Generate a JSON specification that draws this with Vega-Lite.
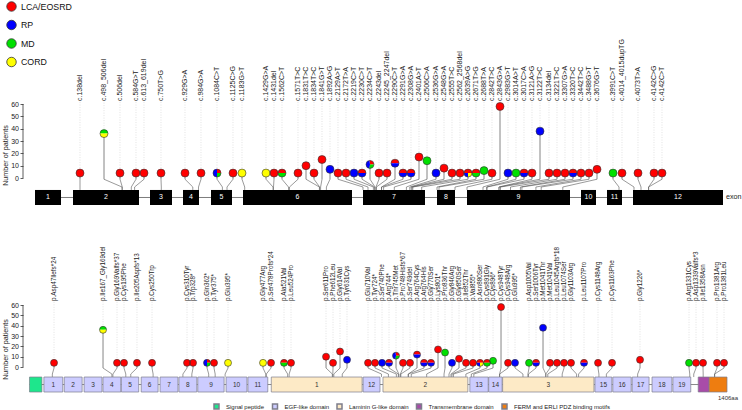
{
"$schema": "https://vega.github.io/schema/vega-lite/v6.json",
"background": "white",
"padding": {"left": 1, "top": 1, "right": 0, "bottom": 0},
"config": {
  "view": {"stroke": null},
  "font": "Liberation Sans",
  "axis": {"domain": false, "grid": false, "tickSize": 3, "tickColor": "#333333", "tickWidth": 0.8, "labelFontSize": 7, "labelColor": "#222222", "labelPadding": 1.5, "titleFontSize": 7.2, "titleFontWeight": "normal", "titleColor": "#222222", "titleX": -13.5},
  "legend": {"padding": 0}
},
"datasets": {
  "variants": [
    {"id":1,"c":"c.138del","p":"p.Asp47Ilefs*24","u":570,"us":570,"a":50.4,"aa":47},
    {"id":2,"c":"c.498_506del","p":"p.Ile167_Gly169del","u":810,"us":990,"a":149.1,"aa":167},
    {"id":3,"c":"c.506del","p":"p.Gly169Valfs*37","u":970,"us":993,"a":177.3,"aa":169},
    {"id":4,"c":"c.584G>T","p":"p.Cys195Phe","u":1130,"us":1083,"a":191.4,"aa":195},
    {"id":5,"c":"c.613_619del","p":"p.Ile205Aspfs*13","u":1210,"us":1116,"a":217.5,"aa":205},
    {"id":6,"c":"c.750T>G","p":"p.Cys250Trp","u":1380,"us":1383,"a":247.8,"aa":250},
    {"id":7,"c":"c.929G>A","p":"p.Cys310Tyr","u":1620,"us":1698,"a":318.3,"aa":310},
    {"id":8,"c":"c.984G>A","p":"p.Trp328*","u":1780,"us":1755,"a":330.4,"aa":328},
    {"id":9,"c":"c.1084C>T","p":"p.Gln362*","u":1940,"us":1994,"a":358.6,"aa":362},
    {"id":10,"c":"c.1125C>G","p":"p.Tyr375*","u":2100,"us":2040,"a":372.7,"aa":375},
    {"id":11,"c":"c.1183G>T","p":"p.Glu395*","u":2190,"us":2217,"a":400.9,"aa":395},
    {"id":12,"c":"c.1429G>A","p":"p.Gly477Arg","u":2430,"us":2500,"a":471.4,"aa":477},
    {"id":13,"c":"c.1431del","p":"p.Ser478Profs*24","u":2510,"us":2505,"a":487.5,"aa":478},
    {"id":14,"c":"c.1562C>T","p":"p.Ala521Val","u":2590,"us":2655,"a":513.7,"aa":521},
    {"id":15,"c":"c.1571T>C","p":"p.Leu524Pro","u":2750,"us":2665,"a":527.8,"aa":524},
    {"id":16,"c":"c.1831T>C","p":"p.Ser611Pro","u":2830,"us":2964,"a":598.3,"aa":611},
    {"id":17,"c":"c.1834T>C","p":"p.Phe612Leu","u":2910,"us":2967,"a":612.4,"aa":612},
    {"id":18,"c":"c.1841G>T","p":"p.Gly614Val","u":2990,"us":2976,"a":626.5,"aa":614},
    {"id":19,"c":"c.1892A>G","p":"p.Tyr631Cys","u":3070,"us":3034,"a":640.6,"aa":631},
    {"id":20,"c":"c.2129A>T","p":"p.Glu710Val","u":3150,"us":3400,"a":682.9,"aa":710},
    {"id":21,"c":"c.2172T>A","p":"p.Tyr724*","u":3230,"us":3450,"a":697,"aa":724},
    {"id":22,"c":"c.2219C>T","p":"p.Ser740Phe","u":3310,"us":3504,"a":711.1,"aa":740},
    {"id":23,"c":"c.2230C>T","p":"p.Arg744*","u":3390,"us":3516,"a":725.2,"aa":744},
    {"id":24,"c":"c.2234C>T","p":"p.Thr745Met","u":3470,"us":3520,"a":739.3,"aa":745},
    {"id":25,"c":"c.2243del","p":"p.Pro748Hisfs*67","u":3560,"us":3530,"a":753.4,"aa":748},
    {"id":26,"c":"c.2245_2247del","p":"p.Ser749del","u":3640,"us":3534,"a":767.5,"aa":749},
    {"id":27,"c":"c.2290C>T","p":"p.Arg764Cys","u":3720,"us":3585,"a":781.6,"aa":764},
    {"id":28,"c":"c.2291G>A","p":"p.Arg764His","u":3800,"us":3586,"a":795.7,"aa":764},
    {"id":29,"c":"c.2308G>A","p":"p.Gly770Ser","u":3880,"us":3606,"a":809.8,"aa":770},
    {"id":30,"c":"c.2401A>T","p":"p.Lys801*","u":3960,"us":3713,"a":823.9,"aa":801},
    {"id":31,"c":"c.2506C>A","p":"p.Pro836Thr","u":4040,"us":3834,"a":838,"aa":836},
    {"id":32,"c":"c.2536G>A","p":"p.Gly846Arg","u":4130,"us":3868,"a":852.1,"aa":846},
    {"id":33,"c":"c.2548G>A","p":"p.Gly850Ser","u":4210,"us":3882,"a":866.2,"aa":850},
    {"id":34,"c":"c.2555T>C","p":"p.Ile852Thr","u":4290,"us":3890,"a":880.3,"aa":852},
    {"id":35,"c":"c.2562_2568del","p":"p.Val855*","u":4370,"us":3898,"a":894.4,"aa":855},
    {"id":36,"c":"c.2639A>G","p":"p.Asn880Ser","u":4450,"us":3987,"a":908.5,"aa":880},
    {"id":37,"c":"c.2671T>G","p":"p.Cys891Gly","u":4530,"us":4140,"a":922.6,"aa":891},
    {"id":38,"c":"c.2688T>A","p":"p.Cys896*","u":4610,"us":4160,"a":934.7,"aa":896},
    {"id":39,"c":"c.2842T>C","p":"p.Cys948Arg","u":4690,"us":4320,"a":964.9,"aa":948},
    {"id":40,"c":"c.2843G>A","p":"p.Cys948Tyr","u":4770,"us":4440,"a":950.8,"aa":948},
    {"id":41,"c":"c.2983G>T","p":"p.Glu995*","u":4850,"us":4600,"a":979,"aa":995},
    {"id":42,"c":"c.3014A>T","p":"p.Asp1005Val","u":4930,"us":4637,"a":1007.2,"aa":1005},
    {"id":43,"c":"c.3017C>A","p":"p.Ser1006Tyr","u":5010,"us":4640,"a":1021.3,"aa":1006},
    {"id":44,"c":"c.3121A>G","p":"p.Met1041Val","u":5090,"us":4760,"a":1049.5,"aa":1041},
    {"id":45,"c":"c.3122T>C","p":"p.Met1041Thr","u":5170,"us":4760,"a":1035.4,"aa":1041},
    {"id":46,"c":"c.3134del","p":"p.Leu1045Argfs*18","u":5260,"us":4775,"a":1063.6,"aa":1045},
    {"id":47,"c":"c.3221T>C","p":"p.Leu1074Ser","u":5340,"us":4875,"a":1077.7,"aa":1074},
    {"id":48,"c":"c.3307G>A","p":"p.Gly1103Arg","u":5420,"us":4974,"a":1091.8,"aa":1103},
    {"id":49,"c":"c.3320T>C","p":"p.Leu1107Pro","u":5500,"us":4989,"a":1118,"aa":1107},
    {"id":50,"c":"c.3442T>C","p":"p.Cys1148Arg","u":5580,"us":5129,"a":1146.2,"aa":1148},
    {"id":51,"c":"c.3488G>T","p":"p.Cys1163Phe","u":5660,"us":5182,"a":1174.4,"aa":1163},
    {"id":52,"c":"c.3676G>T","p":"p.Gly1226*","u":5740,"us":5398,"a":1230.8,"aa":1226},
    {"id":53,"c":"c.3991C>T","p":"p.Arg1331Cys","u":5900,"us":5960,"a":1329.5,"aa":1331},
    {"id":54,"c":"c.4014_4015dupTG","p":"p.Asp1339Valfs*3","u":5990,"us":6110,"a":1343.6,"aa":1339},
    {"id":55,"c":"c.4073T>A","p":"p.Ile1358Asn","u":6150,"us":6180,"a":1357.7,"aa":1358},
    {"id":56,"c":"c.4142C>G","p":"p.Pro1381Arg","u":6310,"us":6256,"a":1385.9,"aa":1381},
    {"id":57,"c":"c.4142C>T","p":"p.Pro1381Leu","u":6390,"us":6256,"a":1400,"aa":1381}
  ],
  "calls": [
    {"id":1,"ph":"LCA/EOSRD","n":4},
    {"id":2,"ph":"MD","n":18},{"id":2,"ph":"CORD","n":18},
    {"id":3,"ph":"LCA/EOSRD","n":4},
    {"id":4,"ph":"LCA/EOSRD","n":4},
    {"id":5,"ph":"LCA/EOSRD","n":4},
    {"id":6,"ph":"LCA/EOSRD","n":4},
    {"id":7,"ph":"LCA/EOSRD","n":4},
    {"id":8,"ph":"LCA/EOSRD","n":4},
    {"id":9,"ph":"LCA/EOSRD","n":1},{"id":9,"ph":"RP","n":2},{"id":9,"ph":"MD","n":1},
    {"id":10,"ph":"LCA/EOSRD","n":4},
    {"id":11,"ph":"CORD","n":4},
    {"id":12,"ph":"CORD","n":4},
    {"id":13,"ph":"LCA/EOSRD","n":4},
    {"id":14,"ph":"LCA/EOSRD","n":2},{"id":14,"ph":"MD","n":2},
    {"id":15,"ph":"LCA/EOSRD","n":4},
    {"id":16,"ph":"LCA/EOSRD","n":10},
    {"id":17,"ph":"LCA/EOSRD","n":4},
    {"id":18,"ph":"LCA/EOSRD","n":15},
    {"id":19,"ph":"RP","n":7},
    {"id":20,"ph":"LCA/EOSRD","n":4},
    {"id":21,"ph":"LCA/EOSRD","n":4},
    {"id":22,"ph":"RP","n":4},
    {"id":23,"ph":"LCA/EOSRD","n":2},{"id":23,"ph":"RP","n":2},
    {"id":24,"ph":"LCA/EOSRD","n":3},{"id":24,"ph":"RP","n":5},{"id":24,"ph":"MD","n":3},
    {"id":25,"ph":"LCA/EOSRD","n":4},
    {"id":26,"ph":"LCA/EOSRD","n":4},
    {"id":27,"ph":"LCA/EOSRD","n":6},{"id":27,"ph":"RP","n":6},
    {"id":28,"ph":"LCA/EOSRD","n":2},{"id":28,"ph":"RP","n":2},
    {"id":29,"ph":"LCA/EOSRD","n":2},{"id":29,"ph":"RP","n":2},
    {"id":30,"ph":"LCA/EOSRD","n":17},
    {"id":31,"ph":"MD","n":14},
    {"id":32,"ph":"RP","n":4},
    {"id":33,"ph":"LCA/EOSRD","n":8},
    {"id":34,"ph":"LCA/EOSRD","n":4},
    {"id":35,"ph":"LCA/EOSRD","n":4},
    {"id":36,"ph":"LCA/EOSRD","n":2},{"id":36,"ph":"RP","n":1},{"id":36,"ph":"CORD","n":1},
    {"id":37,"ph":"LCA/EOSRD","n":2},{"id":37,"ph":"MD","n":2},
    {"id":38,"ph":"MD","n":6},
    {"id":39,"ph":"LCA/EOSRD","n":4},
    {"id":40,"ph":"LCA/EOSRD","n":58},
    {"id":41,"ph":"RP","n":4},
    {"id":42,"ph":"MD","n":4},
    {"id":43,"ph":"LCA/EOSRD","n":2},{"id":43,"ph":"RP","n":2},
    {"id":44,"ph":"LCA/EOSRD","n":4},
    {"id":45,"ph":"RP","n":38},
    {"id":46,"ph":"LCA/EOSRD","n":4},
    {"id":47,"ph":"LCA/EOSRD","n":4},
    {"id":48,"ph":"LCA/EOSRD","n":4},
    {"id":49,"ph":"LCA/EOSRD","n":2},{"id":49,"ph":"RP","n":2},
    {"id":50,"ph":"LCA/EOSRD","n":4},
    {"id":51,"ph":"LCA/EOSRD","n":4},
    {"id":52,"ph":"LCA/EOSRD","n":7},
    {"id":53,"ph":"MD","n":4},
    {"id":54,"ph":"LCA/EOSRD","n":4},
    {"id":55,"ph":"LCA/EOSRD","n":4},
    {"id":56,"ph":"LCA/EOSRD","n":4},
    {"id":57,"ph":"LCA/EOSRD","n":4}
  ],
  "exons": [
    {"num":"1","start":120,"end":380},{"num":"2","start":500,"end":1160},{"num":"3","start":1270,"end":1490},
    {"num":"4","start":1600,"end":1760},{"num":"5","start":1880,"end":2090},{"num":"6","start":2200,"end":3290},
    {"num":"7","start":3400,"end":4020},{"num":"8","start":4140,"end":4320},{"num":"9","start":4440,"end":5470},
    {"num":"10","start":5580,"end":5730},{"num":"11","start":5840,"end":5990},{"num":"12","start":6100,"end":7000}
  ],
  "domains": [
    {"type":"Signal peptide","start":1,"end":26,"lbl":""},
    {"type":"EGF-like domain","start":30,"end":68,"lbl":"1"},
    {"type":"EGF-like domain","start":71,"end":107,"lbl":"2"},
    {"type":"EGF-like domain","start":111,"end":147,"lbl":"3"},
    {"type":"EGF-like domain","start":149,"end":185,"lbl":"4"},
    {"type":"EGF-like domain","start":186,"end":221,"lbl":"5"},
    {"type":"EGF-like domain","start":226,"end":260,"lbl":"6"},
    {"type":"EGF-like domain","start":264,"end":300,"lbl":"7"},
    {"type":"EGF-like domain","start":302,"end":338,"lbl":"8"},
    {"type":"EGF-like domain","start":340,"end":393,"lbl":"9"},
    {"type":"EGF-like domain","start":397,"end":439,"lbl":"10"},
    {"type":"EGF-like domain","start":441,"end":481,"lbl":"11"},
    {"type":"Laminin G-like domain","start":488,"end":671,"lbl":"1"},
    {"type":"EGF-like domain","start":673,"end":707,"lbl":"12"},
    {"type":"Laminin G-like domain","start":713,"end":884,"lbl":"2"},
    {"type":"EGF-like domain","start":888,"end":925,"lbl":"13"},
    {"type":"EGF-like domain","start":926,"end":953,"lbl":"14"},
    {"type":"Laminin G-like domain","start":954,"end":1138,"lbl":"3"},
    {"type":"EGF-like domain","start":1140,"end":1174,"lbl":"15"},
    {"type":"EGF-like domain","start":1176,"end":1213,"lbl":"16"},
    {"type":"EGF-like domain","start":1215,"end":1249,"lbl":"17"},
    {"type":"EGF-like domain","start":1255,"end":1295,"lbl":"18"},
    {"type":"EGF-like domain","start":1297,"end":1333,"lbl":"19"},
    {"type":"Transmembrane domain","start":1348,"end":1370,"lbl":""},
    {"type":"FERM and ERLI PDZ binding motifs","start":1370,"end":1406,"lbl":""}
  ]
},
"spacing": 99,
"bounds": "flush",
"resolve": {"scale": {"x": "independent", "y": "independent"}},
"vconcat": [
  {
    "width": 719, "height": 102,
    "resolve": {"axis": {"y": "independent", "x": "independent"}},
    "layer": [
      {"data": {"values": [{}]},
       "mark": {"type": "rule", "color": "#333333", "strokeWidth": 0.8},
       "encoding": {
         "x": {"datum": 0, "type": "quantitative", "scale": {"domain": [0, 7190], "nice": false, "zero": false}, "axis": null},
         "y": {"datum": 0, "type": "quantitative", "scale": {"domain": [-22.7, 60], "nice": false, "zero": false}, "axis": {"values": [0,10,20,30,40,50,60], "title": "Number of patients", "orient": "left"}},
         "y2": {"datum": 60}}},
      {"data": {"name": "calls"},
       "transform": [{"aggregate": [{"op": "sum", "field": "n", "as": "total"}], "groupby": ["id"]},
                     {"lookup": "id", "from": {"data": {"name": "variants"}, "key": "id", "fields": ["c", "u", "us"]}}],
       "mark": {"type": "rule", "color": "#cfcfcf", "strokeWidth": 0.6, "strokeDash": [1, 1.5]},
       "encoding": {
         "x": {"field": "u", "type": "quantitative", "scale": {"domain": [0, 7190], "nice": false, "zero": false}, "axis": null},
         "y": {"field": "total", "type": "quantitative", "scale": {"domain": [-22.7, 60], "nice": false, "zero": false}, "axis": null},
         "y2": {"datum": 62.4}}},
      {"data": {"name": "calls"},
       "transform": [{"aggregate": [{"op": "sum", "field": "n", "as": "total"}], "groupby": ["id"]},
                     {"lookup": "id", "from": {"data": {"name": "variants"}, "key": "id", "fields": ["c", "u", "us"]}}],
       "mark": {"type": "rule", "color": "#666666", "strokeWidth": 0.8},
       "encoding": {
         "x": {"field": "u", "type": "quantitative", "scale": {"domain": [0, 7190], "nice": false, "zero": false}, "axis": null},
         "y": {"field": "total", "type": "quantitative", "scale": {"domain": [-22.7, 60], "nice": false, "zero": false}, "axis": null},
         "y2": {"datum": -1}}},
      {"data": {"name": "variants"},
       "mark": {"type": "rule", "color": "#555555", "strokeWidth": 0.6},
       "encoding": {
         "x": {"field": "u", "type": "quantitative", "scale": {"domain": [0, 7190], "nice": false, "zero": false}, "axis": null},
         "x2": {"field": "us"},
         "y": {"datum": -1, "type": "quantitative", "scale": {"domain": [-22.7, 60], "nice": false, "zero": false}, "axis": null},
         "y2": {"datum": -7.3}}},
      {"data": {"name": "variants"},
       "mark": {"type": "rule", "color": "#555555", "strokeWidth": 0.6},
       "encoding": {
         "x": {"field": "us", "type": "quantitative", "scale": {"domain": [0, 7190], "nice": false, "zero": false}, "axis": null},
         "y": {"datum": -7.3, "type": "quantitative", "scale": {"domain": [-22.7, 60], "nice": false, "zero": false}, "axis": null},
         "y2": {"datum": -9.7}}},
      {"data": {"name": "exons"},
       "transform": [{"aggregate": [{"op": "min", "field": "start", "as": "s"}, {"op": "max", "field": "end", "as": "e"}]}],
       "mark": {"type": "rule", "color": "#444444", "strokeWidth": 0.7},
       "encoding": {
         "x": {"field": "s", "type": "quantitative", "scale": {"domain": [0, 7190], "nice": false, "zero": false}, "axis": null},
         "x2": {"field": "e"},
         "y": {"datum": -15.8, "type": "quantitative", "scale": {"domain": [-22.7, 60], "nice": false, "zero": false}, "axis": null}}},
      {"data": {"name": "exons"},
       "mark": {"type": "rect", "color": "#000000"},
       "encoding": {
         "x": {"field": "start", "type": "quantitative", "scale": {"domain": [0, 7190], "nice": false, "zero": false}, "axis": null},
         "x2": {"field": "end"},
         "y": {"datum": -9.7, "type": "quantitative", "scale": {"domain": [-22.7, 60], "nice": false, "zero": false}, "axis": null},
         "y2": {"datum": -21.9}}},
      {"data": {"name": "exons"},
       "transform": [{"calculate": "(datum.start + datum.end) / 2", "as": "mid"}],
       "mark": {"type": "text", "color": "#ffffff", "fontSize": 7, "align": "center", "baseline": "middle"},
       "encoding": {
         "x": {"field": "mid", "type": "quantitative", "scale": {"domain": [0, 7190], "nice": false, "zero": false}, "axis": null},
         "y": {"datum": -15.8, "type": "quantitative", "scale": {"domain": [-22.7, 60], "nice": false, "zero": false}, "axis": null},
         "text": {"field": "num"}}},
      {"data": {"name": "exons"},
       "transform": [{"aggregate": [{"op": "max", "field": "end", "as": "e"}]}],
       "mark": {"type": "text", "text": "exon", "color": "#222222", "fontSize": 7.2, "align": "left", "baseline": "middle", "dx": 3},
       "encoding": {
         "x": {"field": "e", "type": "quantitative", "scale": {"domain": [0, 7190], "nice": false, "zero": false}, "axis": null},
         "y": {"datum": -15.8, "type": "quantitative", "scale": {"domain": [-22.7, 60], "nice": false, "zero": false}, "axis": null}}},
      {"data": {"name": "variants"},
       "mark": {"type": "text", "angle": 270, "align": "left", "baseline": "middle", "fontSize": 7, "color": "#222222"},
       "encoding": {
         "x": {"field": "u", "type": "quantitative", "scale": {"domain": [0, 7190], "nice": false, "zero": false}, "axis": null},
         "y": {"datum": 62.4, "type": "quantitative", "scale": {"domain": [-22.7, 60], "nice": false, "zero": false}, "axis": null},
         "text": {"field": "c"}}},
      {"data": {"name": "calls"},
       "transform": [
         {"joinaggregate": [{"op": "sum", "field": "n", "as": "total"}], "groupby": ["id"]},
         {"stack": "n", "groupby": ["id"], "offset": "normalize", "as": ["s0", "s1"]},
         {"lookup": "id", "from": {"data": {"name": "variants"}, "key": "id", "fields": ["u"]}}],
       "mark": {"type": "arc", "radius": 4},
       "encoding": {
         "x": {"field": "u", "type": "quantitative", "scale": {"domain": [0, 7190], "nice": false, "zero": false}, "axis": null},
         "y": {"field": "total", "type": "quantitative", "scale": {"domain": [-22.7, 60], "nice": false, "zero": false}, "axis": null},
         "theta": {"field": "s0", "type": "quantitative", "stack": null, "scale": {"domain": [0, 1], "range": [1.5708, -4.7124]}},
         "theta2": {"field": "s1"},
         "color": {"field": "ph", "type": "nominal",
                   "scale": {"domain": ["LCA/EOSRD", "RP", "MD", "CORD"], "range": ["#ff0000", "#0000ff", "#00e000", "#ffff00"]},
                   "legend": {"orient": "none", "legendX": -17, "legendY": -103, "title": null, "symbolType": "circle", "symbolSize": 90, "labelFontSize": 8.8, "labelOffset": 4, "rowPadding": 5.5, "labelColor": "#111111",
                              "encode": {"symbols": {"update": {"stroke": {"value": "#333333"}, "strokeWidth": {"value": 0.8}}}}}}}},
      {"data": {"name": "calls"},
       "transform": [{"aggregate": [{"op": "sum", "field": "n", "as": "total"}], "groupby": ["id"]},
                     {"lookup": "id", "from": {"data": {"name": "variants"}, "key": "id", "fields": ["u"]}}],
       "mark": {"type": "point", "shape": "circle", "filled": false, "size": 64, "color": "#333333", "strokeWidth": 0.6, "opacity": 1},
       "encoding": {
         "x": {"field": "u", "type": "quantitative", "scale": {"domain": [0, 7190], "nice": false, "zero": false}, "axis": null},
         "y": {"field": "total", "type": "quantitative", "scale": {"domain": [-22.7, 60], "nice": false, "zero": false}, "axis": null}}}
    ]
  },
  {
    "width": 719, "height": 88,
    "resolve": {"axis": {"y": "independent", "x": "independent"}},
    "layer": [
      {"data": {"values": [{}]},
       "mark": {"type": "rule", "color": "#333333", "strokeWidth": 0.8},
       "encoding": {
         "x": {"datum": -12.09, "type": "quantitative", "scale": {"domain": [-12.09, 1436.2], "nice": false, "zero": false}, "axis": null},
         "y": {"datum": 0, "type": "quantitative", "scale": {"domain": [-25.16, 60], "nice": false, "zero": false}, "axis": {"values": [0,10,20,30,40,50,60], "title": "Number of patients", "orient": "left"}},
         "y2": {"datum": 60}}},
      {"data": {"name": "calls"},
       "transform": [{"aggregate": [{"op": "sum", "field": "n", "as": "total"}], "groupby": ["id"]},
                     {"lookup": "id", "from": {"data": {"name": "variants"}, "key": "id", "fields": ["p", "a", "aa"]}}],
       "mark": {"type": "rule", "color": "#cfcfcf", "strokeWidth": 0.6, "strokeDash": [1, 1.5]},
       "encoding": {
         "x": {"field": "a", "type": "quantitative", "scale": {"domain": [-12.09, 1436.2], "nice": false, "zero": false}, "axis": null},
         "y": {"field": "total", "type": "quantitative", "scale": {"domain": [-25.16, 60], "nice": false, "zero": false}, "axis": null},
         "y2": {"datum": 63.9}}},
      {"data": {"name": "calls"},
       "transform": [{"aggregate": [{"op": "sum", "field": "n", "as": "total"}], "groupby": ["id"]},
                     {"lookup": "id", "from": {"data": {"name": "variants"}, "key": "id", "fields": ["p", "a", "aa"]}}],
       "mark": {"type": "rule", "color": "#666666", "strokeWidth": 0.8},
       "encoding": {
         "x": {"field": "a", "type": "quantitative", "scale": {"domain": [-12.09, 1436.2], "nice": false, "zero": false}, "axis": null},
         "y": {"field": "total", "type": "quantitative", "scale": {"domain": [-25.16, 60], "nice": false, "zero": false}, "axis": null},
         "y2": {"datum": -1}}},
      {"data": {"name": "variants"},
       "mark": {"type": "rule", "color": "#555555", "strokeWidth": 0.6},
       "encoding": {
         "x": {"field": "a", "type": "quantitative", "scale": {"domain": [-12.09, 1436.2], "nice": false, "zero": false}, "axis": null},
         "x2": {"field": "aa"},
         "y": {"datum": -1, "type": "quantitative", "scale": {"domain": [-25.16, 60], "nice": false, "zero": false}, "axis": null},
         "y2": {"datum": -6.8}}},
      {"data": {"name": "variants"},
       "mark": {"type": "rule", "color": "#555555", "strokeWidth": 0.6},
       "encoding": {
         "x": {"field": "aa", "type": "quantitative", "scale": {"domain": [-12.09, 1436.2], "nice": false, "zero": false}, "axis": null},
         "y": {"datum": -6.8, "type": "quantitative", "scale": {"domain": [-25.16, 60], "nice": false, "zero": false}, "axis": null},
         "y2": {"datum": -9.7}}},
      {"data": {"name": "domains"},
       "transform": [{"aggregate": [{"op": "min", "field": "start", "as": "s"}, {"op": "max", "field": "end", "as": "e"}]}],
       "mark": {"type": "rule", "color": "#555555", "strokeWidth": 0.7},
       "encoding": {
         "x": {"field": "s", "type": "quantitative", "scale": {"domain": [-12.09, 1436.2], "nice": false, "zero": false}, "axis": null},
         "x2": {"field": "e"},
         "y": {"datum": -16.95, "type": "quantitative", "scale": {"domain": [-25.16, 60], "nice": false, "zero": false}, "axis": null}}},
      {"data": {"name": "domains"},
       "mark": {"type": "rect", "stroke": "#7d7d8c", "strokeWidth": 0.7},
       "encoding": {
         "x": {"field": "start", "type": "quantitative", "scale": {"domain": [-12.09, 1436.2], "nice": false, "zero": false}, "axis": null},
         "x2": {"field": "end"},
         "y": {"datum": -9.7, "type": "quantitative", "scale": {"domain": [-25.16, 60], "nice": false, "zero": false}, "axis": null},
         "y2": {"datum": -24.2},
         "fill": {"field": "type", "type": "nominal",
                  "scale": {"domain": ["Signal peptide", "EGF-like domain", "Laminin G-like domain", "Transmembrane domain", "FERM and ERLI PDZ binding motifs"],
                            "range": ["#1ee68c", "#ccccff", "#fdeac6", "#a84ca8", "#ee7d10"]},
                  "legend": {"orient": "none", "legendX": 190, "legendY": 299, "direction": "horizontal", "title": null, "symbolType": "square", "symbolSize": 25, "labelFontSize": 6, "labelOffset": 6, "columnPadding": 4.5, "labelColor": "#222222",
                             "encode": {"symbols": {"update": {"stroke": {"value": "#777777"}, "strokeWidth": {"value": 0.6}}}}}}}},
      {"data": {"name": "domains"},
       "transform": [{"filter": "datum.lbl != ''"}, {"calculate": "(datum.start + datum.end) / 2", "as": "mid"}],
       "mark": {"type": "text", "color": "#333333", "fontSize": 6.5, "align": "center", "baseline": "middle"},
       "encoding": {
         "x": {"field": "mid", "type": "quantitative", "scale": {"domain": [-12.09, 1436.2], "nice": false, "zero": false}, "axis": null},
         "y": {"datum": -16.95, "type": "quantitative", "scale": {"domain": [-25.16, 60], "nice": false, "zero": false}, "axis": null},
         "text": {"field": "lbl"}}},
      {"data": {"name": "domains"},
       "transform": [{"aggregate": [{"op": "max", "field": "end", "as": "e"}]}],
       "mark": {"type": "text", "text": "1406aa", "color": "#333333", "fontSize": 6, "align": "center", "baseline": "middle", "dx": 1},
       "encoding": {
         "x": {"field": "e", "type": "quantitative", "scale": {"domain": [-12.09, 1436.2], "nice": false, "zero": false}, "axis": null},
         "y": {"datum": -30, "type": "quantitative", "scale": {"domain": [-25.16, 60], "nice": false, "zero": false}, "axis": null}}},
      {"data": {"name": "variants"},
       "mark": {"type": "text", "angle": 270, "align": "left", "baseline": "middle", "fontSize": 6.3, "color": "#222222"},
       "encoding": {
         "x": {"field": "a", "type": "quantitative", "scale": {"domain": [-12.09, 1436.2], "nice": false, "zero": false}, "axis": null},
         "y": {"datum": 63.9, "type": "quantitative", "scale": {"domain": [-25.16, 60], "nice": false, "zero": false}, "axis": null},
         "text": {"field": "p"}}},
      {"data": {"name": "calls"},
       "transform": [
         {"joinaggregate": [{"op": "sum", "field": "n", "as": "total"}], "groupby": ["id"]},
         {"stack": "n", "groupby": ["id"], "offset": "normalize", "as": ["s0", "s1"]},
         {"lookup": "id", "from": {"data": {"name": "variants"}, "key": "id", "fields": ["a"]}}],
       "mark": {"type": "arc", "radius": 3.5},
       "encoding": {
         "x": {"field": "a", "type": "quantitative", "scale": {"domain": [-12.09, 1436.2], "nice": false, "zero": false}, "axis": null},
         "y": {"field": "total", "type": "quantitative", "scale": {"domain": [-25.16, 60], "nice": false, "zero": false}, "axis": null},
         "theta": {"field": "s0", "type": "quantitative", "stack": null, "scale": {"domain": [0, 1], "range": [1.5708, -4.7124]}},
         "theta2": {"field": "s1"},
         "color": {"field": "ph", "type": "nominal",
                   "scale": {"domain": ["LCA/EOSRD", "RP", "MD", "CORD"], "range": ["#ff0000", "#0000ff", "#00e000", "#ffff00"]},
                   "legend": {"orient": "none", "legendX": -17, "legendY": -103, "title": null, "symbolType": "circle", "symbolSize": 90, "labelFontSize": 8.8, "labelOffset": 4, "rowPadding": 5.5, "labelColor": "#111111",
                              "encode": {"symbols": {"update": {"stroke": {"value": "#333333"}, "strokeWidth": {"value": 0.8}}}}}}}},
      {"data": {"name": "calls"},
       "transform": [{"aggregate": [{"op": "sum", "field": "n", "as": "total"}], "groupby": ["id"]},
                     {"lookup": "id", "from": {"data": {"name": "variants"}, "key": "id", "fields": ["a"]}}],
       "mark": {"type": "point", "shape": "circle", "filled": false, "size": 49, "color": "#333333", "strokeWidth": 0.6, "opacity": 1},
       "encoding": {
         "x": {"field": "a", "type": "quantitative", "scale": {"domain": [-12.09, 1436.2], "nice": false, "zero": false}, "axis": null},
         "y": {"field": "total", "type": "quantitative", "scale": {"domain": [-25.16, 60], "nice": false, "zero": false}, "axis": null}}}
    ]
  }
]
}
